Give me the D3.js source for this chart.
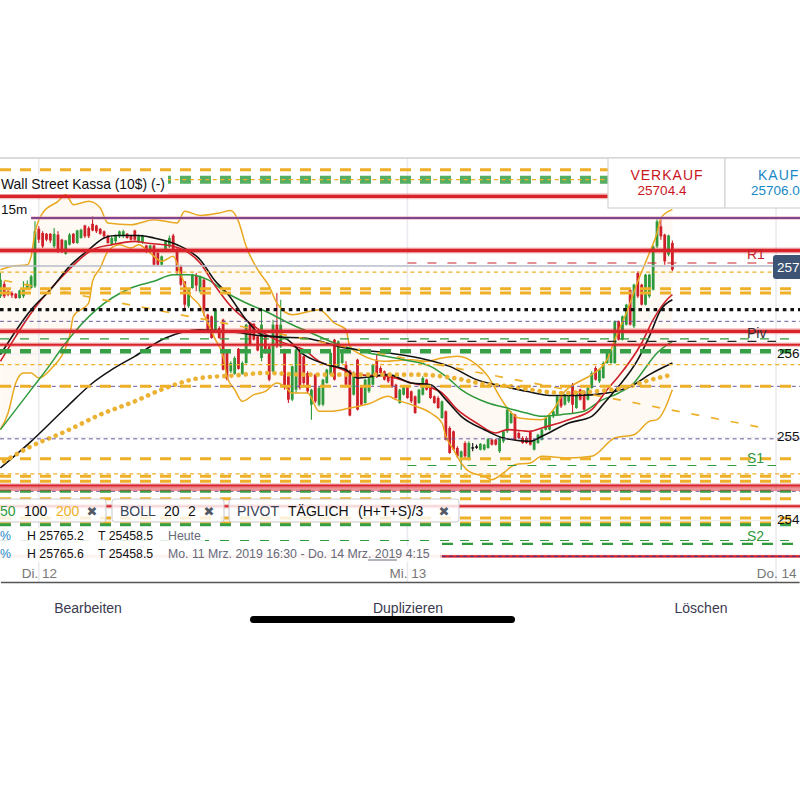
<!DOCTYPE html>
<html>
<head>
<meta charset="utf-8">
<script src="https://cdn.jsdelivr.net/npm/d3@7"></script>
<style>
  body { margin: 0; background: #fff; }
  text { font-family: "Liberation Sans", Arial, sans-serif; }
</style>
</head>
<body>
<div id="chart"></div>
<script>
// 15m candles
const opens = [25668,25683,25674,25672,25671,25666,25668,25678,25678,25680,25749,25744,25743,25743,25728,25742,25736,25719,25730,25743,
  25732,25738,25753,25750,25755,25753,25749,25746,25741,25730,25734,25740,25741,25743,25741,25747,25734,25732,25729,25722,
  25729,25720,25706,25724,25728,25741,25724,25704,25686,25656,25678,25693,25674,25688,25646,25644,25626,25630,25640,25600,
  25578,25575,25605,25575,25588,25634,25635,25620,25594,25620,25608,25578,25634,25608,25604,25572,25544,25556,25604,25596,
  25576,25538,25574,25538,25538,25564,25574,25616,25584,25588,25586,25579,25550,25592,25560,25540,25554,25562,25592,25582,
  25578,25574,25572,25562,25540,25550,25560,25554,25548,25540,25550,25568,25558,25548,25546,25522,25530,25510,25506,25486,
  25472,25492,25472,25487,25488,25484,25484,25486,25496,25496,25482,25494,25506,25516,25526,25504,25498,25498,25506,25484,
  25492,25496,25508,25508,25524,25526,25548,25538,25542,25562,25534,25556,25554,25544,25558,25582,25566,25570,25588,25588,
  25588,25638,25616,25634,25676,25632,25696,25682,25658,25668,25676,25728,25752,25742,25718,25732];
const closes = [25688,25668,25670,25669,25666,25675,25676,25683,25692,25746,25736,25728,25736,25735,25743,25722,25722,25735,25742,25732,
  25747,25748,25740,25740,25747,25746,25743,25740,25732,25738,25741,25746,25746,25738,25736,25736,25741,25741,25722,25729,
  25706,25706,25716,25734,25738,25724,25698,25682,25658,25676,25694,25681,25692,25652,25627,25618,25652,25618,25580,25569,
  25588,25594,25581,25588,25634,25610,25616,25603,25634,25600,25568,25634,25608,25634,25558,25544,25584,25604,25558,25564,
  25554,25556,25542,25558,25568,25580,25600,25568,25614,25602,25562,25525,25576,25532,25538,25568,25572,25586,25572,25576,
  25568,25566,25560,25546,25556,25560,25546,25542,25528,25556,25570,25556,25546,25540,25534,25542,25496,25480,25484,25476,
  25482,25476,25492,25487,25488,25491,25490,25497,25490,25490,25498,25506,25532,25528,25496,25498,25492,25492,25490,25496,
  25502,25508,25522,25524,25530,25548,25536,25550,25552,25538,25552,25544,25532,25558,25576,25568,25580,25588,25600,25604,
  25638,25616,25644,25658,25634,25682,25668,25658,25694,25694,25728,25758,25740,25710,25741,25700];
const highs = [25696,25686,25676,25674,25672,25676,25686,25687,25694,25758,25752,25746,25744,25744,25750,25746,25737,25736,25744,25744,
  25748,25749,25754,25752,25764,25754,25750,25747,25742,25741,25742,25747,25748,25744,25742,25748,25742,25742,25730,25730,
  25730,25722,25717,25735,25741,25743,25726,25706,25686,25677,25695,25696,25693,25690,25647,25645,25653,25632,25641,25602,
  25590,25596,25606,25590,25635,25635,25636,25621,25652,25621,25609,25640,25672,25664,25605,25573,25585,25605,25605,25597,
  25578,25557,25575,25560,25569,25581,25602,25617,25615,25603,25590,25580,25578,25593,25561,25569,25573,25587,25598,25584,
  25579,25575,25573,25563,25557,25561,25561,25555,25549,25557,25572,25569,25560,25549,25548,25543,25531,25512,25507,25488,
  25483,25494,25494,25492,25490,25492,25491,25498,25497,25497,25500,25507,25533,25530,25527,25506,25500,25500,25507,25497,
  25503,25509,25524,25525,25531,25549,25549,25551,25554,25564,25554,25557,25555,25560,25578,25584,25581,25590,25602,25605,
  25639,25639,25645,25659,25678,25683,25698,25683,25695,25695,25729,25761,25762,25743,25742,25735];
const lows = [25666,25666,25668,25666,25665,25665,25666,25676,25677,25678,25732,25726,25734,25732,25726,25720,25720,25718,25729,25731,
  25731,25737,25738,25738,25746,25744,25742,25738,25731,25729,25732,25738,25738,25737,25735,25735,25732,25731,25720,25720,
  25705,25705,25705,25723,25726,25723,25694,25680,25652,25654,25677,25674,25672,25644,25626,25617,25624,25617,25579,25567,
  25576,25574,25580,25574,25587,25609,25615,25602,25590,25599,25566,25576,25606,25606,25556,25540,25542,25552,25556,25562,
  25551,25520,25540,25536,25536,25563,25573,25567,25582,25587,25560,25524,25549,25531,25537,25539,25552,25561,25570,25575,
  25567,25564,25558,25545,25539,25549,25545,25540,25527,25539,25549,25555,25545,25539,25533,25521,25495,25479,25483,25474,
  25460,25474,25471,25482,25485,25483,25483,25485,25489,25489,25480,25492,25504,25515,25495,25497,25491,25491,25489,25483,
  25491,25495,25507,25507,25522,25525,25534,25537,25540,25528,25533,25543,25531,25543,25557,25567,25564,25569,25587,25587,
  25587,25615,25615,25633,25633,25630,25666,25657,25657,25666,25675,25726,25736,25706,25716,25698];

// indicator lines, bar index and price read at knots
const bollUpperBars = [0,3,7,8,9,11,15,17,19,23,26,28,34,40,46,48,52,57,60,62,64,67,70,72,76,83,87,90,91,94,100,107,111,115,119,124,127,130,132,135,141,144,147,150,154,158,160,163,166,169,171,172,175];
const bollUpperVals = [25700,25704,25706,25716,25744,25768,25782,25790,25778,25782,25774,25756,25754,25760,25756,25770,25765,25768,25771,25758,25728,25700,25680,25660,25646,25652,25636,25628,25608,25598,25590,25592,25590,25594,25596,25586,25572,25548,25534,25522,25520,25532,25554,25564,25574,25592,25616,25648,25686,25720,25744,25762,25772];
const bollLowerBars = [0,2,4,6,8,10,13,18,19,23,24,26,28,31,34,36,39,42,45,47,49,52,54,56,58,59,61,63,66,69,72,74,76,80,83,86,91,96,101,103,107,112,115,116,118,120,122,126,128,131,134,138,141,148,154,160,165,169,171,175];
const bollLowerVals = [25508,25528,25564,25576,25576,25570,25580,25620,25644,25660,25686,25702,25722,25730,25726,25730,25720,25710,25716,25694,25672,25656,25636,25616,25596,25572,25556,25542,25550,25554,25564,25560,25552,25552,25530,25530,25534,25539,25548,25544,25538,25528,25516,25500,25484,25468,25458,25452,25448,25456,25466,25468,25476,25474,25476,25498,25502,25518,25520,25556];
const sma50Bars = [0,8,12,17,25,34,40,45,49,54,59,64,70,75,81,88,96,105,112,116,120,127,132,137,141,146,152,156,161,165,167,171,175];
const sma50Vals = [25508,25556,25580,25612,25652,25678,25686,25694,25694,25688,25672,25660,25648,25636,25624,25610,25600,25592,25584,25572,25556,25540,25534,25528,25524,25526,25530,25542,25552,25564,25576,25600,25614];
const sma100Bars = [0,8,17,24,29,35,43,52,59,69,79,90,101,111,117,124,131,137,144,150,158,165,169,175];
const sma100Vals = [25462,25494,25534,25564,25580,25596,25618,25628,25626,25620,25618,25606,25600,25592,25584,25568,25560,25554,25549,25549,25552,25562,25574,25588];
const sma200Bars = [1,8,17,26,35,43,52,61,69,79,96,109,118,127,133,138,147,155,164,168,174];
const sma200Vals = [25470,25488,25506,25526,25542,25558,25570,25573,25576,25574,25574,25574,25570,25562,25560,25556,25552,25554,25560,25566,25573];
const fastBlackBars = [0,8,13,18,23,27,30,36,40,46,52,56,59,64,68,74,79,85,90,93,97,101,107,112,116,120,126,131,138,141,148,154,158,161,166,169,172,175];
const fastBlackVals = [25598,25652,25676,25704,25724,25738,25741,25741,25738,25730,25712,25686,25672,25640,25622,25618,25598,25586,25580,25570,25572,25574,25564,25562,25544,25524,25508,25498,25494,25500,25516,25524,25544,25560,25592,25620,25652,25664];
const fastRedBars = [0,4,8,17,24,29,35,38,45,52,56,60,65,70,75,79,83,88,93,101,107,111,115,119,124,129,132,138,141,148,154,158,161,167,170,174,175];
const fastRedVals = [25590,25620,25648,25696,25724,25730,25734,25732,25728,25708,25680,25656,25636,25620,25610,25604,25590,25582,25574,25572,25564,25560,25552,25532,25516,25504,25508,25506,25510,25520,25532,25556,25572,25612,25640,25666,25670];
const trendBars = [1,200];
const trendVals = [25687,25509];

// horizontal levels (prices)
const redThickLevels = [25788,25723,25626];
const redThinLevels = [25610,25441,25416];
const redPaleLevel = [25437];
const orangeThickLevels = [25820,25677,25672,25560,25473,25452,25446,25425,25402,25396];
const orangeThinLevels = [25697,25586,25455];
const headerLevel = [25808];
const greenThickLevel = [25602];
const greenMidLevels = [25434,25394];
const greenThinLevels = [25617,25375];
const purpleThinLevels = [25638,25560,25497,25434];
const dottedLevel = [25652];
const purpleSolidLevel = [25762];
const pivotR1 = [25708];
const pivotPiv = [25614];
const pivotS1 = [25465];
const pivotS2 = [25371];
const bottomRedLevel = [25356];

const lastPrice = 25704.4;
const dayBars = [10,106,202];
const dayLabels = ['Di. 12','Mi. 13','Do. 14'];
const priceTicks = [25600,25500,25400];
const priceTickLabels = ['256','255','254'];

const svg = d3.select('#chart').append('svg')
  .attr('width', 800).attr('height', 800)
  .style('display', 'block');

const x = d3.scaleLinear().domain([0, 208]).range([0.4, 799.1]);
const y = d3.scaleLinear().domain([25900, 25300]).range([103, 603]);

const pts = (bars, vals) => d3.zip(bars, vals);
const line = d3.line().x(d => x(d[0])).y(d => y(d[1])).curve(d3.curveMonotoneX);

// bollinger fill
const upper = pts(bollUpperBars, bollUpperVals);
const lower = pts(bollLowerBars, bollLowerVals);
svg.append('path')
  .attr('d', d3.line().x(d => x(d[0])).y(d => y(d[1]))(upper.concat(lower.slice().reverse())))
  .attr('fill', '#fef9f3');

// grid
svg.selectAll('.vgrid').data(dayBars).enter().append('line')
  .attr('x1', d => x(d)).attr('x2', d => x(d))
  .attr('y1', 158).attr('y2', 582)
  .attr('stroke', '#e9e9ef').attr('stroke-width', 1.5);
svg.selectAll('.hgrid').data(priceTicks).enter().append('line')
  .attr('x1', 0).attr('x2', 800)
  .attr('y1', d => y(d) + 1).attr('y2', d => y(d) + 1)
  .attr('stroke', '#ececf0').attr('stroke-width', 1);

// candles
const candleColor = i => opens[i] === closes[i] ? '#111' : (closes[i] > opens[i] ? '#2f9a3c' : '#cf1f28');
const candles = svg.append('g').selectAll('g').data(d3.range(opens.length)).enter().append('g');
candles.append('line')
  .attr('x1', i => x(i)).attr('x2', i => x(i))
  .attr('y1', i => y(highs[i])).attr('y2', i => y(lows[i]))
  .attr('stroke', candleColor).attr('stroke-width', 1.1);
candles.append('rect')
  .attr('x', i => x(i) - 1.4).attr('width', 2.8)
  .attr('y', i => y(Math.max(opens[i], closes[i])))
  .attr('height', i => Math.max(1.5, Math.abs(y(opens[i]) - y(closes[i]))))
  .attr('fill', candleColor);

// indicators
const addLine = (data, color, width, dash) => svg.append('path')
  .attr('d', line(data))
  .attr('fill', 'none')
  .attr('stroke', color)
  .attr('stroke-width', width)
  .attr('stroke-dasharray', dash || null);

addLine(upper, '#e9a820', 1.5);
addLine(lower, '#e9a820', 1.5);
addLine(pts(sma50Bars, sma50Vals), '#2f9a3c', 1.5);
addLine(pts(sma100Bars, sma100Vals), '#111', 1.5);
addLine(pts(fastRedBars, fastRedVals), '#cf1f28', 1.6);
addLine(pts(fastBlackBars, fastBlackVals), '#111', 1.6);
addLine(pts(trendBars, trendVals), '#eeb028', 1.7, '8 12');
addLine(pts(sma200Bars, sma200Vals), '#ebb233', 4.6, '0.1 7.1').attr('stroke-linecap', 'round');

// levels
const addLevels = (values, color, width, dash, from, to, opacity) => {
  svg.append('g').selectAll('line').data(values).enter().append('line')
    .attr('x1', from === undefined ? 0 : x(from))
    .attr('x2', to === undefined ? 800 : x(to))
    .attr('y1', d => y(d)).attr('y2', d => y(d))
    .attr('stroke', color)
    .attr('stroke-width', width)
    .attr('stroke-opacity', opacity === undefined ? 1 : opacity)
    .attr('stroke-dasharray', dash || null);
};

addLevels(orangeThinLevels, '#eeb028', 1.2, '4 3.6');
addLevels(purpleThinLevels, '#6a5a9c', 1, '4 3.4');
addLevels(greenThinLevels, '#2f9a3c', 1.2, '9 11');
addLevels(pivotS1, '#2f9a3c', 1.2, '9 11', 106, 202);
addLevels(pivotR1, '#c8232b', 1.2, '9 11', 106, 202);
addLevels(pivotPiv, '#222', 1.3, '9 11', 106, 202);
addLevels(orangeThickLevels, '#eeb028', 3, '11 9');
addLevels(greenThickLevel, '#37a047', 4.5, '11 9');
addLevels(greenMidLevels, '#37a047', 3, '11 9');
addLevels(headerLevel, '#37a047', 8, '11 9', undefined, undefined, 0.85);
addLevels(headerLevel, '#eeb028', 1.2, '4 3.6');
addLevels(pivotS2, '#2f9a3c', 2.4, '11 9', 115);
addLevels(dottedLevel, '#111', 3.4, '3.6 4');
addLevels(purpleSolidLevel, '#e7a0a8', 3, null, 8);
addLevels(purpleSolidLevel, '#5b2a86', 1.4, null, 8);
addLevels(redPaleLevel, '#dc2a30', 4.5, null, undefined, undefined, 0.5);
addLevels(redThickLevels, '#dc2a30', 6, null, undefined, undefined, 0.3);
addLevels(redThickLevels, '#d8232a', 3.4);
addLevels(redThinLevels, '#dc2a30', 4.5, null, undefined, undefined, 0.3);
addLevels(redThinLevels, '#d8232a', 2);
addLevels(bottomRedLevel, '#e06b74', 3, null, undefined, undefined, 0.5);
addLevels(bottomRedLevel, '#d8232a', 2.2, null, 115);
addLevels(bottomRedLevel, '#4a2a86', 1, '4 3', 115);
addLevels([lastPrice], '#b7bcc8', 1.6);

// header
svg.append('line').attr('x1', 0).attr('x2', 800).attr('y1', 158).attr('y2', 158)
  .attr('stroke', '#cfcfcf').attr('stroke-width', 1.5);
svg.append('rect').attr('x', 0).attr('y', 174).attr('width', 168).attr('height', 20).attr('fill', '#fff');
svg.append('text').attr('x', 1).attr('y', 189)
  .attr('font-size', 13.9).attr('fill', '#111').text('Wall Street Kassa (10$) (-)');
svg.append('rect').attr('x', 0).attr('y', 200).attr('width', 30).attr('height', 18).attr('fill', '#fff');
svg.append('text').attr('x', 1).attr('y', 214)
  .attr('font-size', 13.5).attr('fill', '#111').text('15m');

svg.append('rect').attr('x', 608).attr('y', 158).attr('width', 117).attr('height', 50)
  .attr('fill', '#fff').attr('stroke', '#d4d4d4').attr('stroke-width', 1.2);
svg.append('rect').attr('x', 725).attr('y', 158).attr('width', 80).attr('height', 50)
  .attr('fill', '#fff').attr('stroke', '#d4d4d4').attr('stroke-width', 1.2);
svg.append('text').attr('x', 667).attr('y', 180).attr('text-anchor', 'middle')
  .attr('font-size', 14).attr('letter-spacing', 1).attr('fill', '#c8161d').text('VERKAUF');
svg.append('text').attr('x', 662).attr('y', 195).attr('text-anchor', 'middle')
  .attr('font-size', 13.5).attr('fill', '#c8161d').text('25704.4');
svg.append('text').attr('x', 758).attr('y', 180)
  .attr('font-size', 14).attr('letter-spacing', 1).attr('fill', '#1788c5').text('KAUF');
svg.append('text').attr('x', 751).attr('y', 195)
  .attr('font-size', 13.5).attr('fill', '#1788c5').text('25706.0');

// pivot labels
const pivotLabels = [['R1', pivotR1[0], '#c8232b', -4], ['Piv', pivotPiv[0], '#333', -3], ['S1', pivotS1[0], '#2f9a3c', -3], ['S2', pivotS2[0], '#2f9a3c', -3]];
svg.selectAll('.pivot').data(pivotLabels).enter().append('text')
  .attr('x', 747).attr('y', d => y(d[1]) + d[3])
  .attr('font-size', 14).attr('fill', d => d[2]).text(d => d[0]);

// price axis
const yAxis = svg.append('g').attr('transform', 'translate(777,0)')
  .call(d3.axisRight(y).tickValues(priceTicks).tickSize(0).tickPadding(0).tickFormat((d, i) => priceTickLabels[i]));
yAxis.select('.domain').remove();
yAxis.selectAll('text').attr('font-size', 13.5).attr('fill', '#111')
  .style('font-family', '"Liberation Sans", Arial, sans-serif');

// last price badge
svg.append('rect').attr('x', 773).attr('y', 255).attr('width', 40).attr('height', 24).attr('rx', 3)
  .attr('fill', '#3d5475');
svg.append('text').attr('x', 777).attr('y', 272)
  .attr('font-size', 13.5).attr('fill', '#fff').text('257');

// indicator chips
const chips = [[-4, 110], [112, 112], [229, 230]];
svg.selectAll('.chip').data(chips).enter().append('rect')
  .attr('x', d => d[0]).attr('y', 499).attr('width', d => d[1]).attr('height', 23).attr('rx', 3)
  .attr('fill', '#fff').attr('fill-opacity', 0.82)
  .attr('stroke', '#c9c9cf').attr('stroke-width', 1);

const chipText = [
  ['50', 0, '#2f9a3c'], ['100', 24, '#111'], ['200', 56, '#eeb028'],
  ['BOLL', 120, '#3a4358'], ['20', 164, '#111'], ['2', 188, '#111'],
  ['PIVOT', 237, '#3a4358'], ['TÄGLICH', 288, '#111'], ['(H+T+S)/3', 358, '#111']
];
svg.selectAll('.chiptext').data(chipText).enter().append('text')
  .attr('x', d => d[1]).attr('y', 516)
  .attr('font-size', 14).attr('fill', d => d[2]).text(d => d[0]);
svg.selectAll('.chipx').data([92, 209, 444]).enter().append('text')
  .attr('x', d => d).attr('y', 516).attr('text-anchor', 'middle')
  .style('font-family', '"DejaVu Sans"').attr('font-size', 13).attr('font-weight', 'bold')
  .attr('fill', '#555b66').text('✖');

// stat rows
svg.append('rect').attr('x', 0).attr('y', 528).attr('width', 205).attr('height', 17).attr('fill', '#fff').attr('fill-opacity', 0.85);
svg.append('rect').attr('x', 0).attr('y', 546).attr('width', 440).attr('height', 16).attr('fill', '#fff').attr('fill-opacity', 0.82);
const statRows = [
  ['%', 0, 540, '#1788c5'], ['H 25765.2', 27, 540, '#111'], ['T 25458.5', 98, 540, '#111'], ['Heute', 168, 540, '#666a78'],
  ['%', 0, 558, '#1788c5'], ['H 25765.6', 27, 558, '#111'], ['T 25458.5', 98, 558, '#111'],
  ['Mo. 11 Mrz. 2019 16:30 - Do. 14 Mrz. 2019 4:15', 168, 558, '#666a78']
];
svg.selectAll('.stat').data(statRows).enter().append('text')
  .attr('x', d => d[1]).attr('y', d => d[2])
  .attr('font-size', 12.3).attr('fill', d => d[3]).text(d => d[0]);
svg.append('line').attr('x1', 368).attr('x2', 397).attr('y1', 560).attr('y2', 560)
  .attr('stroke', '#666a78').attr('stroke-width', 1);

// time axis
const xAxis = svg.append('g').attr('transform', 'translate(0,582)')
  .call(d3.axisTop(x).tickValues(dayBars).tickSize(0).tickPadding(4).tickFormat((d, i) => dayLabels[i]));
xAxis.select('.domain').attr('stroke', '#555').attr('stroke-width', 1.5);
xAxis.selectAll('text').attr('font-size', 13.5).attr('fill', '#777')
  .style('font-family', '"Liberation Sans", Arial, sans-serif');

// bottom buttons
const buttons = [['Bearbeiten', 88], ['Duplizieren', 408], ['Löschen', 701]];
svg.selectAll('.btn').data(buttons).enter().append('text')
  .attr('x', d => d[1]).attr('y', 613).attr('text-anchor', 'middle')
  .attr('font-size', 14).attr('fill', '#3a3a50').text(d => d[0]);
svg.append('rect').attr('x', 250).attr('y', 616).attr('width', 265).attr('height', 7).attr('rx', 3.5).attr('fill', '#000');
</script>
</body>
</html>
